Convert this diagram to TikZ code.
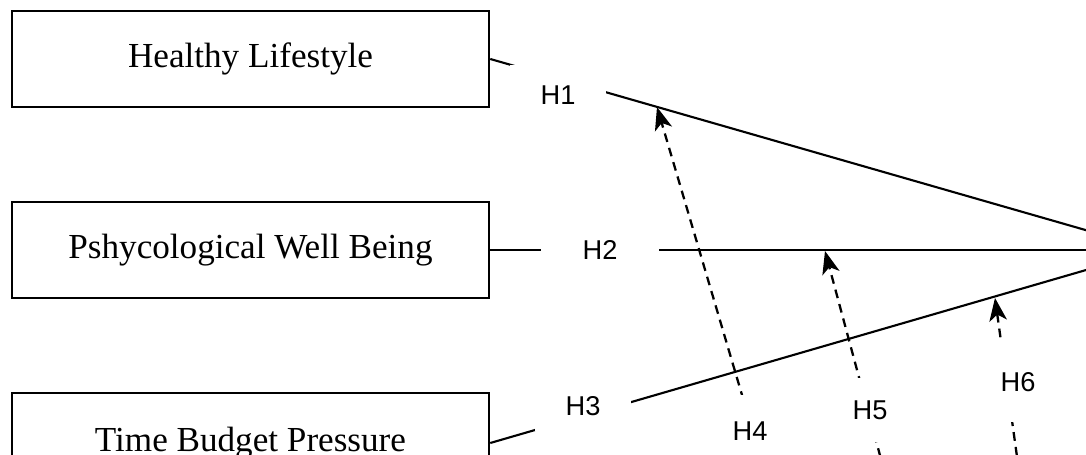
\documentclass[tikz,border=0pt]{standalone}
\usepackage{fontspec}
\setmainfont{Liberation Serif}
\newfontfamily\hypfont{Liberation Sans}
\usetikzlibrary{arrows.meta}

\begin{document}
\begin{tikzpicture}[x=0.02cm,y=-0.02cm,
    factor/.style={draw,line width=1.5pt,minimum width=9.54cm,minimum height=1.92cm,
      font=\fontsize{20}{22}\selectfont},
    link/.style={line width=1.2pt},
    moder/.style={line width=1.3pt,dash pattern=on 5pt off 3.5pt,
      -{Stealth[length=13pt,width=10pt,inset=3.5pt]}},
    hyp/.style={fill=white,inner sep=0pt,font=\hypfont\fontsize{15.5}{18}\selectfont}]
    \useasboundingbox (0,0) rectangle (1086,455);
    \clip (0,0) rectangle (1086,455);
    \node[factor] (hl) at (250.5,59) {Healthy Lifestyle};
    \node[factor] (pwb) at (250.5,250) {Pshycological Well Being};
    \node[factor,minimum height=2cm] (tbp) at (250.5,443) {Time Budget Pressure};
    \coordinate (dv) at (1155,250);
    \draw[link] (hl.east) -- (dv);
    \draw[link] (pwb.east) -- (dv);
    \draw[link] (tbp.east) -- (dv);
    % moderating paths, coming from below the picture
    \coordinate (t4) at (657,107); \coordinate (m4) at (773,500);
    \coordinate (t5) at (825,251); \coordinate (m5) at (892,500);
    \coordinate (t6) at (995,298); \coordinate (m6) at (1023,500);
    \draw[moder] (m4) -- (t4);
    \draw[moder] (m5) -- (t5);
    \draw[moder] (m6) -- (t6);
    \node[hyp,minimum width=1.92cm,minimum height=1.2cm] (h1) at (558,95) {H1};
    \node[hyp,minimum width=2.36cm,minimum height=0.4cm] (h2) at (600,250) {H2};
    \node[hyp,minimum width=1.92cm,minimum height=1cm] (h3) at (583,406) {H3};
    \node[hyp,minimum width=0.8cm,minimum height=1.44cm] (h4) at (750,431) {H4};
    \node[hyp,minimum width=0.9cm,minimum height=1.3cm] (h5) at (870,410) {H5};
    \node[hyp,minimum width=0.9cm,minimum height=1.6cm] (h6) at (1018,382) {H6};
\end{tikzpicture}
\end{document}
